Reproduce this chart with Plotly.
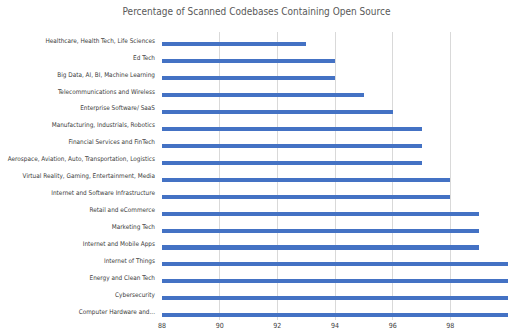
import plotly.graph_objects as go

categories = [
    "Healthcare, Health Tech, Life Sciences",
    "Ed Tech",
    "Big Data, AI, BI, Machine Learning",
    "Telecommunications and Wireless",
    "Enterprise Software/ SaaS",
    "Manufacturing, Industrials, Robotics",
    "Financial Services and FinTech",
    "Aerospace, Aviation, Auto, Transportation, Logistics",
    "Virtual Reality, Gaming, Entertainment, Media",
    "Internet and Software Infrastructure",
    "Retail and eCommerce",
    "Marketing Tech",
    "Internet and Mobile Apps",
    "Internet of Things",
    "Energy and Clean Tech",
    "Cybersecurity",
    "Computer Hardware and...",
]
values = [93, 94, 94, 95, 96, 97, 97, 97, 98, 98, 99, 99, 99, 100, 100, 100, 100]
tick_vals = [88, 90, 92, 94, 96, 98, 100]
axis_min = 88

FONT = "DejaVu Sans Condensed, Roboto Condensed, Liberation Sans Narrow, Roboto, sans-serif"

fig = go.Figure(go.Bar(
    x=[v - axis_min for v in values],
    y=categories,
    orientation="h",
    base=axis_min,
    marker=dict(color="#4472C4", line=dict(width=0)),
    width=0.24,
    offset=0.1,
))

fig.update_layout(
    width=513, height=335,
    margin=dict(l=162, r=5, t=32, b=15),
    paper_bgcolor="white", plot_bgcolor="white",
    font=dict(family=FONT, size=6.4, color="#404040"),
    title=dict(text="Percentage of Scanned Codebases Containing Open Source",
               x=0.5, xanchor="center", y=0.975, yanchor="top",
               font=dict(family=FONT, size=10, color="#595959")),
    showlegend=False,
    bargap=0,
)
fig.update_xaxes(range=[88, 100], tickvals=tick_vals, showgrid=True,
                 gridcolor="#d9d9d9", gridwidth=1, zeroline=False, automargin=False,
                 showline=False, ticks="", tickfont=dict(family=FONT, size=7, color="#404040"))
fig.update_yaxes(autorange="reversed", showgrid=False, showline=False, ticks="",
                 automargin=False, ticklabelstandoff=6,
                 tickfont=dict(family=FONT, size=6.4, color="#404040"))

fig.write_html("out.html")
